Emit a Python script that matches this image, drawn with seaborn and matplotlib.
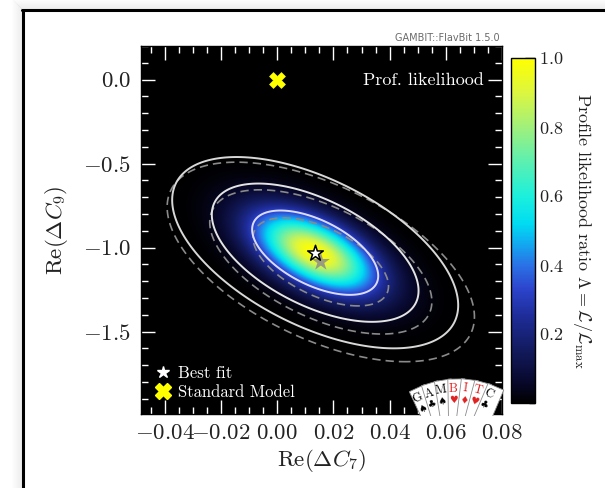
import numpy as np
import matplotlib
matplotlib.use("Agg")
import matplotlib.pyplot as plt
import matplotlib.transforms as mtransforms
from matplotlib.colors import LinearSegmentedColormap
from matplotlib.lines import Line2D
from matplotlib.patches import Rectangle
from matplotlib.ticker import MultipleLocator
import pandas as pd
import seaborn as sns

# --- fit summary in the (Re dC7, Re dC9) plane ---
best_fit = [0.0135, -1.03]
sigma_c7, sigma_c9, rho = 0.0148, 0.1655, -0.55
alt_best_fit = [0.0155, -1.085]
alt_sigma_c7, alt_sigma_c9, alt_rho = 0.0159, 0.1726, -0.55
sm_point = [0.0, 0.0]
# 2D delta-chi2 thresholds for the 1, 2 and 3 sigma regions
delta_chi2 = [2.2977, 6.1801, 11.829]

x_range = [-0.0485, 0.08]
y_range = [-1.99, 0.2]
x_ticks = [-0.04, -0.02, 0.00, 0.02, 0.04, 0.06, 0.08]
y_ticks = [0.0, -0.5, -1.0, -1.5]
cbar_ticks = [0.2, 0.4, 0.6, 0.8, 1.0]

card_letters = ["G", "A", "M", "B", "I", "T", "C"]
card_suits = ["\u2660", "\u2663", "\u2660", "\u2665", "\u2666", "\u2665", "\u2663"]
card_colors = ["black", "black", "black", "#e02020", "#e02020", "#e02020", "black"]

sns.set_theme(style="ticks")
plt.rcParams.update({
    "font.family": "serif",
    "font.serif": ["cmr10"],
    "mathtext.fontset": "cm",
    "axes.formatter.use_mathtext": True,
    "axes.unicode_minus": True,
})

W, H = 605, 488
fig = plt.figure(figsize=(W / 100, H / 100), dpi=100)
fig.patch.set_facecolor("white")
pix = mtransforms.Affine2D().scale(1 / W, -1 / H).translate(0, 1) + fig.transFigure

ax = fig.add_axes([141 / W, 1 - 414 / H, 361 / W, 368 / H])
ax.set_facecolor("black")


def profile(cx, cy, sx, sy, r, X, Y):
    dx = (X - cx) / sx
    dy = (Y - cy) / sy
    q = (dx ** 2 - 2 * r * dx * dy + dy ** 2) / (1 - r ** 2)
    return np.exp(-0.5 * q)


gx = np.linspace(x_range[0], x_range[1], 500)
gy = np.linspace(y_range[0], y_range[1], 500)
GX, GY = np.meshgrid(gx, gy)
lam = profile(best_fit[0], best_fit[1], sigma_c7, sigma_c9, rho, GX, GY)
lam_alt = profile(alt_best_fit[0], alt_best_fit[1], alt_sigma_c7, alt_sigma_c9, alt_rho, GX, GY)

cmap = LinearSegmentedColormap.from_list("proflike", [
    (0.00, "#000000"), (0.06, "#08082c"), (0.15, "#121a5c"), (0.25, "#1e2c98"),
    (0.33, "#2c44cc"), (0.40, "#2a72e6"), (0.46, "#12a8f0"), (0.52, "#00dcf2"),
    (0.60, "#1cf0dc"), (0.70, "#5cf0b0"), (0.80, "#a0f07c"), (0.90, "#dcf640"),
    (1.00, "#ffff00")])

im = ax.imshow(lam, origin="lower", extent=[x_range[0], x_range[1], y_range[0], y_range[1]],
               cmap=cmap, vmin=0, vmax=1, aspect="auto", interpolation="bilinear")

levels = sorted(np.exp(-0.5 * np.array(delta_chi2)))
ax.contour(GX, GY, lam_alt, levels=levels, colors="#8a8a8a", linewidths=1.2,
           linestyles=[(0, (5, 3))] * 3)
ax.contour(GX, GY, lam, levels=levels, colors=["#d8d8d8", "#e4e4e4", "#dcdcff"],
           linewidths=1.4)

points = pd.DataFrame({
    "c7": [alt_best_fit[0], best_fit[0], sm_point[0]],
    "c9": [alt_best_fit[1], best_fit[1], sm_point[1]],
    "kind": ["alt", "best", "sm"],
})
sns.scatterplot(data=points[points.kind == "alt"], x="c7", y="c9", marker="*", s=190,
                color="#8c8c8c", alpha=0.85, edgecolor="none", ax=ax, zorder=5)
sns.scatterplot(data=points[points.kind == "best"], x="c7", y="c9", marker="*", s=140,
                color="white", edgecolor="black", linewidth=1.1, ax=ax, zorder=6)
sns.scatterplot(data=points[points.kind == "sm"], x="c7", y="c9", marker="X", s=130,
                color="#ffff00", edgecolor="#ffff00", linewidth=0.5, ax=ax, zorder=6)

ax.set_xlim(x_range)
ax.set_ylim(y_range)
ax.set_xticks(x_ticks)
ax.set_yticks(y_ticks)
ax.xaxis.set_major_formatter(plt.FuncFormatter(lambda v, p: f"${v:.2f}$"))
ax.yaxis.set_major_formatter(plt.FuncFormatter(lambda v, p: f"${v:.1f}$"))
ax.xaxis.set_minor_locator(MultipleLocator(0.005))
ax.yaxis.set_minor_locator(MultipleLocator(0.1))
ax.tick_params(which="both", direction="in", top=True, right=True, color="white",
               labelsize=16.5, labelcolor="#222222", width=1.0, pad=7)
ax.tick_params(which="major", length=10)
ax.tick_params(which="minor", length=5)
for sp in ax.spines.values():
    sp.set_color("black")
    sp.set_linewidth(1.0)
ax.set_xlabel(r"$\mathrm{Re}(\Delta C_7)$", fontsize=16.5, color="#222222", labelpad=3)
ax.set_ylabel(r"$\mathrm{Re}(\Delta C_9)$", fontsize=16.5, color="#222222", labelpad=9.5)

ax.text(0.95, 0.908, "Prof. likelihood", transform=ax.transAxes, ha="right", va="center",
        color="white", fontsize=13)

handles = [
    Line2D([], [], marker="*", linestyle="none", markersize=9, color="white",
           markeredgecolor="white"),
    Line2D([], [], marker="X", linestyle="none", markersize=11, color="#ffff00",
           markeredgecolor="#ffff00"),
]
leg = ax.legend(handles, ["Best fit", "Standard Model"], loc="lower left",
                bbox_to_anchor=(0.0, 0.006), frameon=False, fontsize=12,
                labelcolor="white", handletextpad=0.3, handlelength=1.2,
                borderaxespad=0.3, labelspacing=0.25)

cax = fig.add_axes([511 / W, 1 - 403 / H, 24 / W, 345 / H])
cb = fig.colorbar(im, cax=cax, ticks=cbar_ticks)
cb.ax.yaxis.set_minor_locator(MultipleLocator(0.05))
cb.ax.tick_params(which="both", direction="in", color="black", width=1.0,
                  labelsize=13, labelcolor="#222222", pad=3)
cb.ax.tick_params(which="major", length=7)
cb.ax.tick_params(which="minor", length=4)
cb.ax.yaxis.set_major_formatter(plt.FuncFormatter(lambda v, p: f"${v:.1f}$"))
cb.outline.set_edgecolor("black")
cb.outline.set_linewidth(1.0)
cb.set_label(r"Profile likelihood ratio $\Lambda = \mathcal{L}/\mathcal{L}_\mathrm{max}$",
             rotation=270, fontsize=13, color="#222222", labelpad=21)

fig.text(500 / W, 1 - 38 / H, "GAMBIT::FlavBit 1.5.0", ha="right", va="center",
         fontsize=7, color="#6a6a6a", family="DejaVu Sans")

# card fan logo, trimmed at the bottom edge of the plot
pivot = (458.0, 476.0)
angles = np.linspace(-25, 23, 7)
clip = Rectangle((380, 340), 140, 75.5, transform=pix, facecolor="none", edgecolor="none")
fig.add_artist(clip)
clip.set_visible(False)
for i, th in enumerate(angles):
    t = mtransforms.Affine2D().rotate_deg(th).translate(*pivot) + pix
    card = Rectangle((-8.5, -97), 17, 45, transform=t, facecolor="white",
                     edgecolor="#8a8a8a", linewidth=0.6, zorder=10)
    fig.add_artist(card)
    card.set_clip_path(clip)
    c, s = np.cos(np.radians(th)), np.sin(np.radians(th))
    for (lx, ly, txt, fs, fam) in [(-3.5, -87.5, card_letters[i], 9, "serif"),
                                   (-3.5, -76, card_suits[i], 7, "DejaVu Sans")]:
        px = pivot[0] + c * lx - s * ly
        py = pivot[1] + s * lx + c * ly
        fig.text(px / W, 1 - py / H, txt, ha="center", va="center", rotation=-th,
                 fontsize=fs, color=card_colors[i], family=fam, zorder=11,
                 style="italic" if i >= 4 else "normal")

# page frame with soft shadow
for k in range(1, 12):
    a = 0.06 * (1 - k / 12)
    fig.add_artist(Line2D([23 - k, 23 - k], [10 - k, H], transform=pix, color="black",
                          alpha=a, linewidth=1.0, zorder=0))
    fig.add_artist(Line2D([23 - k, W], [10 - k, 10 - k], transform=pix, color="black",
                          alpha=a, linewidth=1.0, zorder=0))
fig.add_artist(Line2D([23, 23], [10, H], transform=pix, color="black", linewidth=2.2))
fig.add_artist(Line2D([22, W], [10, 10], transform=pix, color="black", linewidth=2.2))

fig.savefig("out.png", dpi=100)
